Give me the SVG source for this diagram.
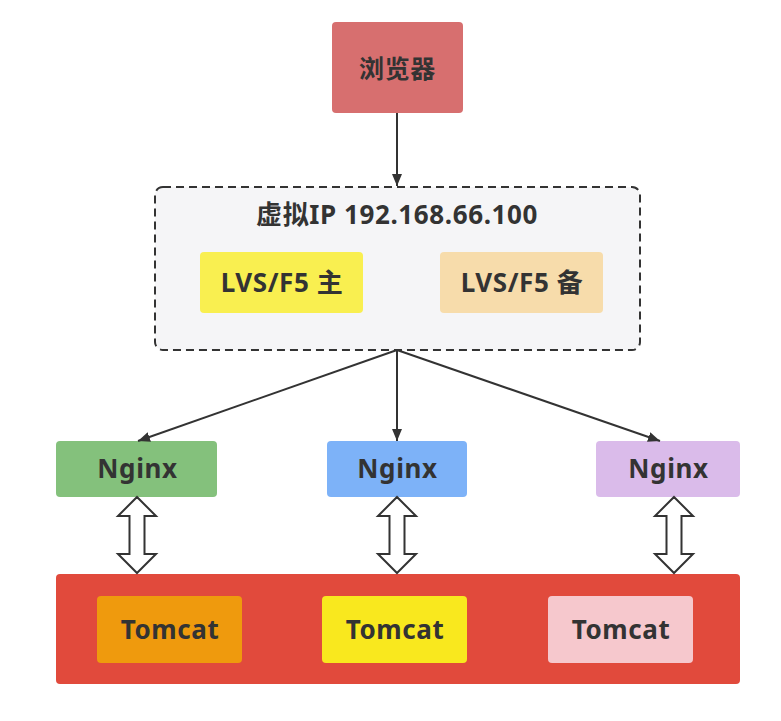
<svg xmlns="http://www.w3.org/2000/svg" width="781" height="721" viewBox="0 0 781 721">
<style>
.t{font-family:"Noto Sans","Noto Sans CJK SC",sans-serif;font-weight:bold;fill:#333;text-anchor:middle;dominant-baseline:central;letter-spacing:0.6px}
.c{stroke:#333;stroke-width:2;fill:none}
.d{fill:#fff;stroke:#333;stroke-width:2;stroke-linejoin:miter}
</style>
<defs>
<marker id="ah" viewBox="0 0 12 10" refX="12" refY="5" markerWidth="12" markerHeight="10" markerUnits="userSpaceOnUse" orient="auto">
<path d="M0,0 L12,5 L0,10 Z" fill="#333"/>
</marker>
</defs>
<rect width="781" height="721" fill="#fff"/>
<g id="browser">
<rect x="332" y="22" width="131" height="91" rx="4" fill="#d76f6f"/>
<text class="t" x="397.5" y="68" font-size="25">浏览器</text>
</g>
<g id="vip">
<rect x="155" y="187" width="485" height="163" rx="8" fill="#f5f5f7" stroke="#333" stroke-width="2" stroke-dasharray="8,5"/>
<text class="t" x="397" y="214" font-size="26">虚拟IP 192.168.66.100</text>
</g>
<g id="lvs-main">
<rect x="200" y="252" width="163" height="61" rx="4" fill="#f9ef50"/>
<text class="t" x="282" y="282" font-size="26">LVS/F5 主</text>
</g>
<g id="lvs-backup">
<rect x="440" y="252" width="163" height="61" rx="4" fill="#f7dcab"/>
<text class="t" x="522" y="282" font-size="26">LVS/F5 备</text>
</g>
<g id="nginx1">
<rect x="56" y="441" width="161" height="56" rx="4" fill="#84c17c"/>
<text class="t" x="137.5" y="468" font-size="26">Nginx</text>
</g>
<g id="nginx2">
<rect x="327" y="441" width="140" height="56" rx="4" fill="#7db2f8"/>
<text class="t" x="397.5" y="468" font-size="26">Nginx</text>
</g>
<g id="nginx3">
<rect x="596" y="441" width="144" height="56" rx="4" fill="#dabbea"/>
<text class="t" x="668.5" y="468" font-size="26">Nginx</text>
</g>
<g id="tomcat-cluster">
<rect x="56" y="574" width="684" height="110" rx="4" fill="#e14a3c"/>
</g>
<g id="tomcat1">
<rect x="97" y="596" width="145" height="67" rx="4" fill="#ef9a0d"/>
<text class="t" x="170" y="629" font-size="26">Tomcat</text>
</g>
<g id="tomcat2">
<rect x="322" y="596" width="145" height="67" rx="4" fill="#f9e81e"/>
<text class="t" x="395" y="629" font-size="26">Tomcat</text>
</g>
<g id="tomcat3">
<rect x="548" y="596" width="145" height="67" rx="4" fill="#f6c8cd"/>
<text class="t" x="621" y="629" font-size="26">Tomcat</text>
</g>
<g id="connectors">
<line class="c" x1="397" y1="113" x2="397" y2="186" marker-end="url(#ah)"/>
<line class="c" x1="397" y1="350" x2="138" y2="441" marker-end="url(#ah)"/>
<line class="c" x1="397" y1="350" x2="397" y2="441" marker-end="url(#ah)"/>
<line class="c" x1="397" y1="350" x2="660" y2="441" marker-end="url(#ah)"/>
<path class="d" d="M137,497 L156,516 L144.5,516 L144.5,554 L156,554 L137,573 L118,554 L129.5,554 L129.5,516 L118,516 Z"/>
<path class="d" d="M397,497 L416,516 L404.5,516 L404.5,554 L416,554 L397,573 L378,554 L389.5,554 L389.5,516 L378,516 Z"/>
<path class="d" d="M674,497 L693,516 L681.5,516 L681.5,554 L693,554 L674,573 L655,554 L666.5,554 L666.5,516 L655,516 Z"/>
</g>
</svg>
